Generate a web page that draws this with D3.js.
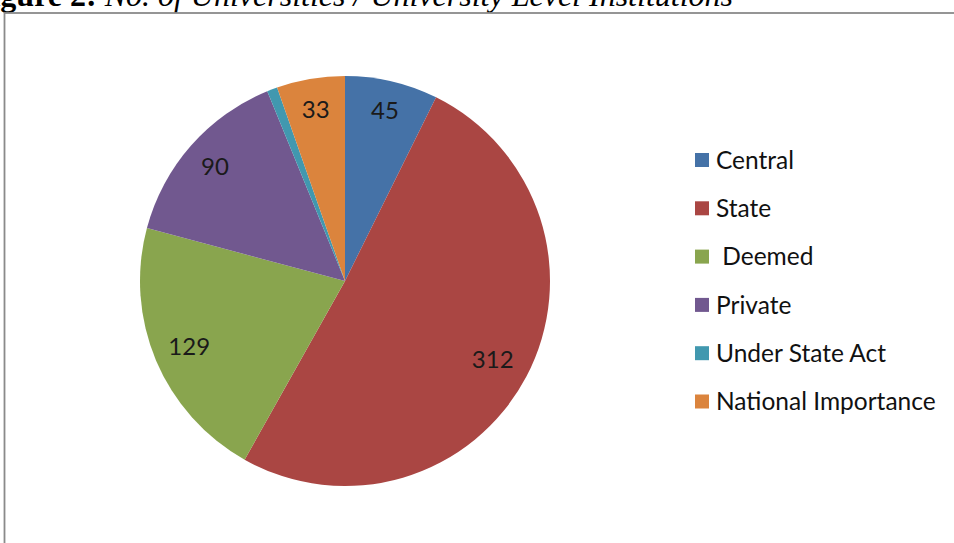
<!DOCTYPE html>
<html>
<head>
<meta charset="utf-8">
<script src="https://cdn.jsdelivr.net/npm/d3@7"></script>
<style>
  body { margin: 0; background: #fff; }
  svg { display: block; }
</style>
</head>
<body>
<div id="chart"></div>
<script>
// Données du graphique
const categories = ["Central", "State", " Deemed", "Private", "Under State Act", "National Importance"];
const valeurs = [45, 312, 129, 90, 5, 33];
const etiquettes = ["45", "312", "129", "90", "", "33"];
const couleurs = ["#4572A7", "#AA4643", "#89A54E", "#71588F", "#4198AF", "#DB843D"];

// Position des étiquettes (fraction du rayon), façon "ajustement optimal" d'Excel
const rayonEtiquettes = [0.855, 0.815, 0.825, 0.845, 0.85, 0.85];

const largeur = 954, hauteur = 543;
const cx = 345, cy = 281, rayon = 205;

const svg = d3.select("#chart").append("svg")
    .attr("width", largeur)
    .attr("height", hauteur);

// Titre (coupé en haut et à gauche comme sur l'original)
const titre = svg.append("text")
    .attr("y", 6)
    .attr("font-family", "'Liberation Serif', 'Times New Roman', serif")
    .attr("font-size", 32)
    .attr("fill", "#000");
titre.append("tspan").attr("font-weight", "bold").text("Figure 2:");
titre.append("tspan").attr("font-style", "italic").text(" No. of Universities / University Level Institutions");
// on cale la fin du titre sur le bord droit visible de l'original
const longueurTitre = titre.node().getComputedTextLength();
titre.attr("x", 733 - longueurTitre);

// Cadre du graphique
svg.append("rect")
    .attr("x", 4.5)
    .attr("y", 13)
    .attr("width", 1200)
    .attr("height", 800)
    .attr("fill", "none")
    .attr("stroke", "#8a8a8a")
    .attr("stroke-width", 1.8);

// Camembert
const pie = d3.pie().sort(null).value(d => d);
const arcs = pie(valeurs);
const arc = d3.arc().innerRadius(0).outerRadius(rayon);

const g = svg.append("g").attr("transform", `translate(${cx},${cy})`);

g.selectAll("path")
    .data(arcs)
    .join("path")
    .attr("d", arc)
    .attr("fill", (d, i) => couleurs[i]);

g.selectAll("text")
    .data(arcs)
    .join("text")
    .attr("transform", (d, i) => {
        const a = (d.startAngle + d.endAngle) / 2;
        const r = rayon * rayonEtiquettes[i];
        return `translate(${Math.sin(a) * r},${-Math.cos(a) * r})`;
    })
    .attr("text-anchor", "middle")
    .attr("dy", "0.36em")
    .attr("font-family", "Lato, 'Open Sans', sans-serif")
    .attr("font-size", 24)
    .attr("fill", "#1a1a1a")
    .text((d, i) => etiquettes[i]);

// Légende
const legende = svg.append("g").attr("transform", "translate(695,160)");
const ecart = 48.3;

legende.selectAll("rect")
    .data(categories)
    .join("rect")
    .attr("x", 0)
    .attr("y", (d, i) => i * ecart - 7)
    .attr("width", 14)
    .attr("height", 14)
    .attr("fill", (d, i) => couleurs[i]);

legende.selectAll("text")
    .data(categories)
    .join("text")
    .attr("x", 21)
    .attr("y", (d, i) => i * ecart)
    .attr("dy", "0.36em")
    .attr("font-family", "Lato, 'Open Sans', sans-serif")
    .attr("font-size", 24.5)
    .attr("fill", "#111")
    .style("white-space", "pre")
    .text(d => d);
</script>
</body>
</html>
